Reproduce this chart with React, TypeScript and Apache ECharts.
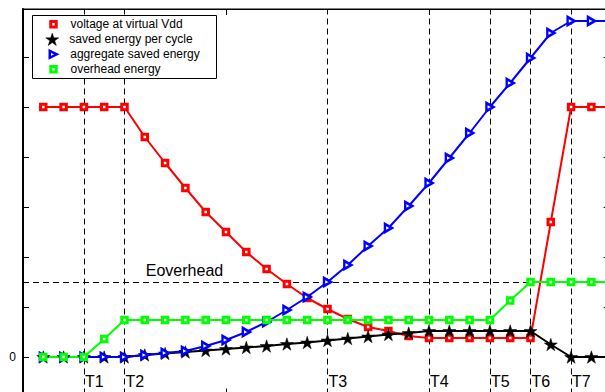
import { useEffect, useRef } from "react";
import * as echarts from "echarts";

// cycle index (x axis)
const X = [1, 2, 3, 4, 5, 6, 7, 8, 9, 10, 11, 12, 13, 14, 15, 16, 17, 18, 19, 20, 21, 22, 23, 24, 25, 26, 27, 28, 29];
const VOLTAGE = [5, 5, 5, 5, 5, 4.4, 3.88, 3.38, 2.9, 2.5, 2.1, 1.76, 1.46, 1.18, 0.96, 0.76, 0.6, 0.52, 0.42, 0.38, 0.38, 0.38, 0.38, 0.38, 0.38, 2.7, 5, 5, 5];
const SAVED_PER_CYCLE = [0, 0, 0, 0, 0, 0.04, 0.07, 0.1, 0.13, 0.16, 0.19, 0.22, 0.26, 0.29, 0.33, 0.37, 0.41, 0.45, 0.48, 0.52, 0.52, 0.52, 0.52, 0.52, 0.52, 0.25, 0, 0, 0];
const AGGREGATE = [0, 0, 0, 0, 0, 0.04, 0.08, 0.12, 0.22, 0.34, 0.5, 0.7, 0.94, 1.2, 1.5, 1.84, 2.22, 2.58, 3.02, 3.48, 3.98, 4.48, 5.0, 5.48, 5.98, 6.48, 6.72, 6.72, 6.72];
const OVERHEAD = [0, 0, 0, 0.36, 0.74, 0.74, 0.74, 0.74, 0.74, 0.74, 0.74, 0.74, 0.74, 0.74, 0.74, 0.74, 0.74, 0.74, 0.74, 0.74, 0.74, 0.74, 0.74, 1.13, 1.5, 1.5, 1.5, 1.5, 1.5];
const E_OVERHEAD = 1.5;
const T_POS = [3, 5, 15, 20, 23, 25, 27];
const T_LABELS = ["T1", "T2", "T3", "T4", "T5", "T6", "T7"];
const NAMES = ["voltage at virtual Vdd", "saved energy per cycle", "aggregate saved energy", "overhead energy"];

const STAR = "path://M50 0 L61.23 34.55 L97.55 34.55 L68.17 55.9 L79.39 90.45 L50 69.1 L20.61 90.45 L31.83 55.9 L2.45 34.55 L38.77 34.55 Z";
const TRI = "path://M0 0 L10 5 L0 10 Z";
const FONT = "Liberation Sans";

function pairs(ys: number[]) {
  return X.map((x, i) => [x, ys[i]]);
}

export default function App() {
  const ref = useRef<HTMLDivElement>(null);
  useEffect(() => {
    if (!ref.current) return;
    const chart = echarts.init(ref.current, undefined, { renderer: "svg" });
    const legendBase = (top: number, left: number, w: number, h: number, padL: number, item: any) => ({
      show: true,
      orient: "vertical",
      left,
      top,
      padding: 0,
      itemWidth: w,
      itemHeight: h,
      selectedMode: false,
      z: 5,
      textStyle: { fontSize: 12, fontFamily: FONT, color: "#000", lineHeight: 14, padding: [0, 0, 0, padL] },
      data: [item],
    });
    chart.setOption({
      animation: false,
      backgroundColor: "#fff",
      grid: {
        left: 23,
        top: 9,
        width: 588.7,
        height: 385.5,
        show: true,
        borderColor: "#000",
        borderWidth: 1,
        backgroundColor: "transparent",
      },
      xAxis: [
        {
          type: "value",
          min: 0,
          max: 29,
          interval: 10,
          position: "bottom",
          axisLine: { show: true, onZero: false, lineStyle: { color: "#000", width: 1 } },
          axisTick: { show: true, inside: true, length: 6, lineStyle: { color: "#000" } },
          axisLabel: { show: false },
          splitLine: { show: false },
        },
        {
          type: "value",
          min: 0,
          max: 29,
          interval: 10,
          position: "top",
          axisLine: { show: true, onZero: false, lineStyle: { color: "#000", width: 1 } },
          axisTick: { show: true, inside: true, length: 6, lineStyle: { color: "#000" } },
          axisLabel: { show: false },
          splitLine: { show: false },
        },
      ],
      yAxis: [
        {
          type: "value",
          min: -0.75,
          max: 6.96,
          splitNumber: 7,
          position: "left",
          axisLine: { show: true, onZero: false, lineStyle: { color: "#000", width: 2 } },
          axisTick: { show: true, inside: true, length: 6, lineStyle: { color: "#000" } },
          axisLabel: {
            show: true,
            margin: 7,
            fontSize: 12,
            fontFamily: FONT,
            color: "#000",
            formatter: (v: number) => (v === 0 ? "0" : ""),
          },
          splitLine: { show: false },
        },
        {
          type: "value",
          min: -0.75,
          max: 6.96,
          splitNumber: 7,
          position: "right",
          axisLine: { show: true, onZero: false, lineStyle: { color: "#000", width: 1 } },
          axisTick: { show: true, inside: true, length: 8, lineStyle: { color: "#000" } },
          axisLabel: { show: false },
          splitLine: { show: false },
        },
      ],
      legend: [
        legendBase(17.3, 49.25, 5.5, 5.5, 9.25, {
          name: NAMES[0],
          icon: "rect",
          itemStyle: { color: "#fff", borderColor: "#ff0000", borderWidth: 3 },
        }),
        legendBase(32.3, 45.5, 13, 12.4, 5.5, {
          name: NAMES[1],
          icon: STAR,
          itemStyle: { color: "#000", borderColor: "#000", borderWidth: 0.5 },
        }),
        legendBase(47.3, 48.5, 7, 8, 8.5, {
          name: NAMES[2],
          icon: TRI,
          itemStyle: { color: "#fff", borderColor: "#0000ff", borderWidth: 2.5 },
        }),
        legendBase(62.3, 49.25, 5.5, 5.5, 9.25, {
          name: NAMES[3],
          icon: "rect",
          itemStyle: { color: "#fff", borderColor: "#00ff00", borderWidth: 3 },
        }),
      ],
      graphic: [
        {
          type: "rect",
          z: 4,
          silent: true,
          shape: { x: 32.5, y: 15.5, width: 184, height: 63 },
          style: { fill: "#fff", stroke: "#000", lineWidth: 1 },
        },
      ],
      series: [
        {
          name: NAMES[0],
          type: "line",
          data: pairs(VOLTAGE),
          symbol: "rect",
          symbolSize: 5.5,
          lineStyle: { color: "#ff0000", width: 2 },
          itemStyle: { color: "#fff", borderColor: "#ff0000", borderWidth: 3 },
          z: 2,
          markLine: {
            silent: true,
            symbol: ["none", "none"],
            z: 1,
            label: { show: false },
            lineStyle: { color: "#000", type: [6, 4], width: 1 },
            data: [...T_POS.map((x) => ({ xAxis: x })), { yAxis: E_OVERHEAD }],
          },
          markPoint: {
            silent: true,
            symbol: "circle",
            symbolSize: 0,
            label: {
              show: true,
              position: "right",
              distance: 1,
              formatter: "{b}",
              color: "#000",
              fontSize: 16,
              fontFamily: FONT,
            },
            data: [
              ...T_POS.map((x, k) => ({ name: T_LABELS[k], coord: [x, -0.48] })),
              { name: "Eoverhead", coord: [6, 1.74] },
            ],
          },
        },
        {
          name: NAMES[1],
          type: "line",
          data: pairs(SAVED_PER_CYCLE),
          symbol: STAR,
          symbolSize: [13, 12.4],
          lineStyle: { color: "#000", width: 2 },
          itemStyle: { color: "#000", borderColor: "#000", borderWidth: 0.5 },
          z: 3,
        },
        {
          name: NAMES[2],
          type: "line",
          data: pairs(AGGREGATE),
          symbol: TRI,
          symbolSize: [7, 8],
          lineStyle: { color: "#0000ff", width: 2 },
          itemStyle: { color: "#fff", borderColor: "#0000ff", borderWidth: 2.5 },
          z: 3,
        },
        {
          name: NAMES[3],
          type: "line",
          data: pairs(OVERHEAD),
          symbol: "rect",
          symbolSize: 5.5,
          lineStyle: { color: "#00ff00", width: 2 },
          itemStyle: { color: "#fff", borderColor: "#00ff00", borderWidth: 3 },
          z: 3,
        },
      ],
    });
    return () => chart.dispose();
  }, []);
  return (
    <div
      ref={ref}
      style={{ position: "fixed", left: 0, top: 0, width: 640, height: 420, background: "#fff" }}
    />
  );
}
